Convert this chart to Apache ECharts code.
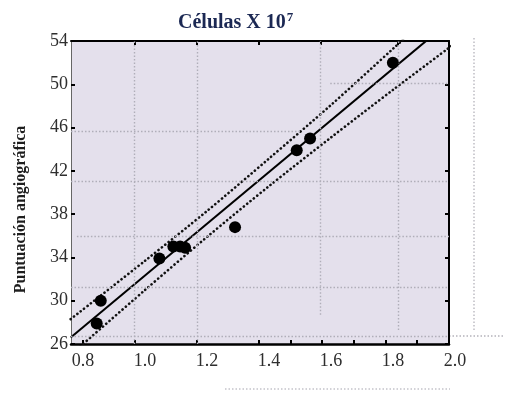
<!DOCTYPE html>
<html>
<head>
<meta charset="utf-8">
<script src="https://cdn.jsdelivr.net/npm/echarts@6/dist/echarts.min.js"></script>
<style>html,body{margin:0;padding:0;background:#fff;}#c{width:505px;height:393px;}</style>
</head>
<body>
<div id="c"></div>
<script>
// ---- data ----
const pointsX = [0.857, 0.844, 1.046, 1.091, 1.113, 1.129, 1.290, 1.489, 1.532, 1.799];
const pointsY = [30.0, 27.9, 33.9, 35.0, 35.0, 34.9, 36.8, 43.9, 45.0, 52.0];
const fitX = [0.76, 1.91];
const fitY = [26.6, 54.1];
const bandX = [0.76, 1.0, 1.2, 1.4, 1.6, 1.8, 2.0];
const bandUpper = [28.3, 33.7, 38.3, 43.15, 48.1, 53.3, 58.5];
const bandLower = [25.0, 31.0, 35.9, 40.6, 45.1, 49.5, 53.8];
const xLabels = [0.8, 1.0, 1.2, 1.4, 1.6, 1.8, 2.0];
const bottomTicks = [0.8, 0.965, 1.168, 1.368, 1.47, 1.57, 1.674, 1.777, 1.877];
const topTicks = [0.965, 1.168, 1.368, 1.565, 1.816];
const gridLinesX = [[0.965, 26, 54], [1.168, 26, 54], [1.565, 28.7, 54], [1.816, 27.3, 54]];
const gridLinesY = [[50.1, 1.597, 1.98], [45.7, 0.761, 1.506], [41.0, 0.761, 1.98], [36.0, 0.78, 1.98], [31.2, 0.761, 1.98], [26.7, 0.761, 1.98]];
const titleMain = 'Células X 10';
const titleSup = '7';
const yName = 'Puntuación angiográfica';

// ---- chart ----
const serif = '"Liberation Serif", "DejaVu Serif", serif';
const X_MIN = 0.761, X_MAX = 1.98, X_MAX_LABEL = 2.0;
const zip = (a, b) => a.map((v, i) => [v, b[i]]);
const dotStyle = { color: '#111', width: 2.6, type: [0.1, 4.2], cap: 'round' };
const gridStyle = { color: '#b0aeb9', width: 1.4, type: [1.5, 2] };

const chart = echarts.init(document.getElementById('c'), null, { renderer: 'canvas' });
chart.setOption({
  animation: false,
  backgroundColor: '#ffffff',
  title: {
    text: '{a|' + titleMain + '}{s|' + titleSup + '}',
    left: 173, top: 6,
    textStyle: {
      rich: {
        a: { fontFamily: serif, fontWeight: 'bold', fontSize: 20, color: '#1b2853', lineHeight: 23 },
        s: { fontFamily: serif, fontWeight: 'bold', fontSize: 13, color: '#1b2853', lineHeight: 23, verticalAlign: 'top', padding: [0, 0, 6, 1] }
      }
    }
  },
  grid: [
    { left: 71, top: 41, width: 378, height: 303, show: true, backgroundColor: '#e4e0ec', borderWidth: 0 },
    { left: 71, top: 41, width: 384, height: 303, show: false }
  ],
  xAxis: [
    { type: 'value', gridIndex: 0, min: X_MIN, max: X_MAX, position: 'bottom',
      axisLine: { show: true, onZero: false, lineStyle: { color: '#000', width: 2.5 } },
      axisTick: { show: true, inside: true, length: 4, customValues: bottomTicks, lineStyle: { color: '#000', width: 2 } },
      axisLabel: { show: false }, splitLine: { show: false } },
    { type: 'value', gridIndex: 0, min: X_MIN, max: X_MAX, position: 'top',
      axisLine: { show: true, onZero: false, lineStyle: { color: '#000', width: 2 } },
      axisTick: { show: true, inside: true, length: 4, customValues: topTicks, lineStyle: { color: '#000', width: 2 } },
      axisLabel: { show: false }, splitLine: { show: false } },
    { type: 'value', gridIndex: 1, min: X_MIN, max: X_MAX_LABEL, position: 'bottom',
      axisLine: { show: false }, axisTick: { show: false }, splitLine: { show: false },
      axisLabel: { show: true, customValues: xLabels, margin: 8, formatter: v => v.toFixed(1),
        fontFamily: serif, fontSize: 18, color: '#2e2e2e' } }
  ],
  yAxis: [
    { type: 'value', gridIndex: 0, min: 26, max: 54, interval: 4, position: 'left',
      name: yName, nameLocation: 'middle', nameGap: 42,
      nameTextStyle: { fontFamily: serif, fontWeight: 'bold', fontSize: 16, color: '#1e1e1e', padding: [0, 34, 0, 0] },
      axisLine: { show: true, onZero: false, lineStyle: { color: '#666', width: 1 } },
      axisTick: { show: true, inside: true, length: 4, lineStyle: { color: '#000', width: 2 } },
      axisLabel: { show: true, margin: 3, fontFamily: serif, fontSize: 18, color: '#2e2e2e' },
      splitLine: { show: false } },
    { type: 'value', gridIndex: 0, min: 26, max: 54, interval: 4, position: 'right',
      axisLine: { show: true, onZero: false, lineStyle: { color: '#000', width: 2 } },
      axisTick: { show: true, inside: true, length: 4, lineStyle: { color: '#000', width: 2 } },
      axisLabel: { show: false }, splitLine: { show: false } },
    { type: 'value', gridIndex: 1, min: 26, max: 54, show: false }
  ],
  series: [
    { type: 'line', xAxisIndex: 0, yAxisIndex: 0, data: [], silent: true,
      markLine: { silent: true, symbol: 'none', label: { show: false }, lineStyle: gridStyle,
        data: gridLinesX.map(g => [{ coord: [g[0], g[1]] }, { coord: [g[0], g[2]] }])
          .concat(gridLinesY.map(g => [{ coord: [g[1], g[0]] }, { coord: [g[2], g[0]] }])) } },
    { type: 'line', xAxisIndex: 0, yAxisIndex: 0, data: zip(bandX, bandUpper), symbol: 'none', smooth: 0.3, clip: true, lineStyle: dotStyle, z: 3 },
    { type: 'line', xAxisIndex: 0, yAxisIndex: 0, data: zip(bandX, bandLower), symbol: 'none', smooth: 0.3, clip: true, lineStyle: dotStyle, z: 3 },
    { type: 'line', xAxisIndex: 0, yAxisIndex: 0, data: zip(fitX, fitY), symbol: 'none', clip: true, lineStyle: { color: '#000', width: 2 }, z: 4 },
    { type: 'scatter', xAxisIndex: 0, yAxisIndex: 0, data: zip(pointsX, pointsY), symbol: 'circle', symbolSize: 12,
      itemStyle: { color: '#000', opacity: 1 }, z: 5 },
    { type: 'line', xAxisIndex: 2, yAxisIndex: 2, data: [], silent: true }
  ],
  graphic: [
    { type: 'line', silent: true, shape: { x1: 474, y1: 38, x2: 474, y2: 330 }, style: { stroke: '#b4b3bb', lineWidth: 1.3, lineDash: [1.5, 2] } },
    { type: 'line', silent: true, shape: { x1: 449, y1: 336, x2: 505, y2: 336 }, style: { stroke: '#b4b3bb', lineWidth: 1.3, lineDash: [1.5, 2] } },
    { type: 'line', silent: true, shape: { x1: 225, y1: 389, x2: 450, y2: 389 }, style: { stroke: '#c4c3ca', lineWidth: 1.3, lineDash: [1.5, 2] } }
  ]
});
</script>
</body>
</html>
